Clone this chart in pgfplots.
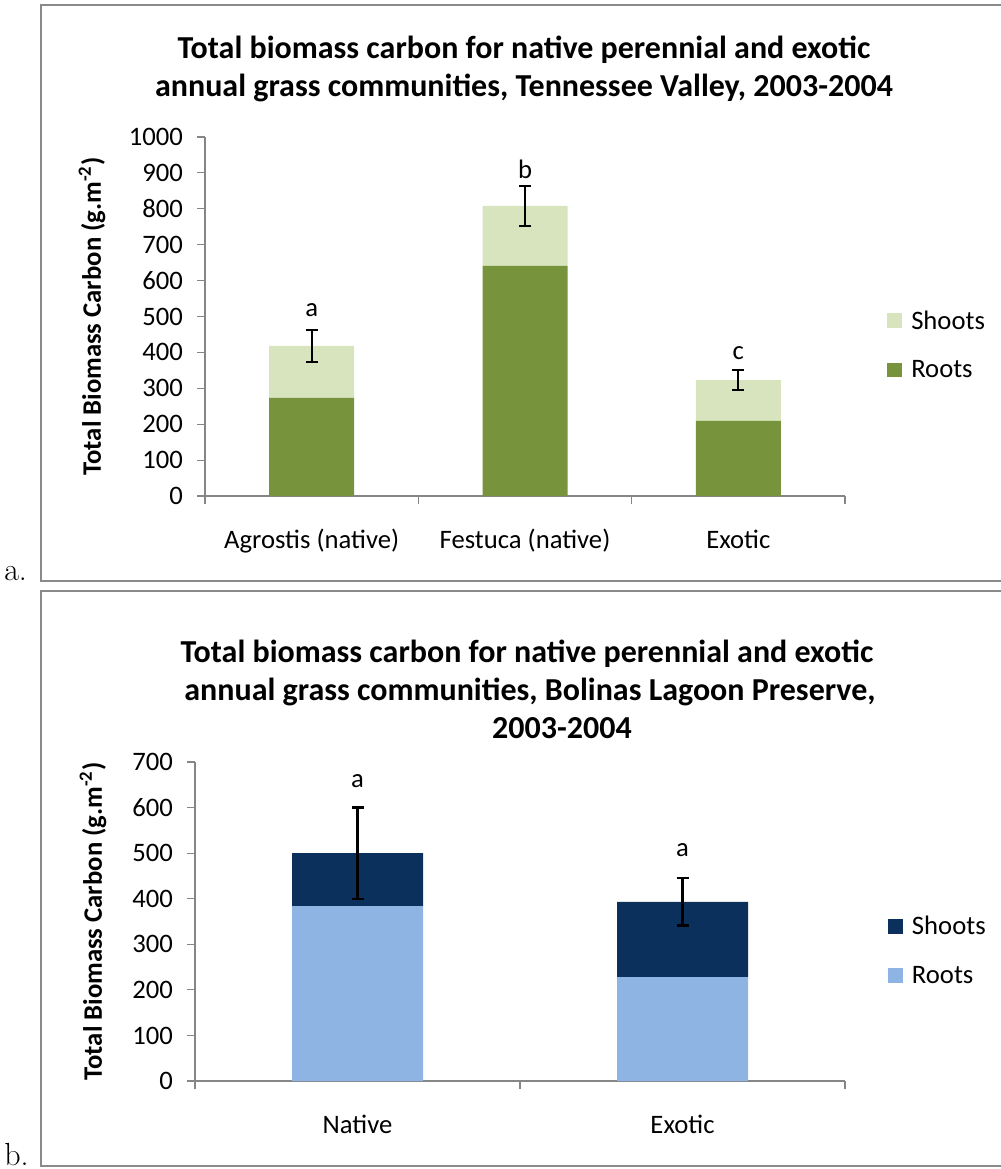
\documentclass[border=0pt]{standalone}
\usepackage{fontspec}
\usepackage{pgfplots}
\pgfplotsset{compat=1.18}
\newfontfamily\carlito{Carlito}

\definecolor{rootgreen}{HTML}{77933C}
\definecolor{shootgreen}{HTML}{D7E4BD}
\definecolor{shootblue}{HTML}{0B305B}
\definecolor{rootblue}{HTML}{8DB4E2}
\definecolor{axisgray}{HTML}{868686}
\definecolor{framegray}{HTML}{8A8A8A}

\newcommand{\bodyfont}{\carlito\fontsize{20}{24}\selectfont}
\newcommand{\titlefont}{\carlito\bfseries\fontsize{24}{29}\selectfont}

\pgfplotsset{
  biomass/.style={
    scale only axis,
    ybar stacked,
    ymin=0,
    axis x line*=bottom,
    axis y line*=left,
    axis line style={axisgray, line width=0.9pt},
    tick align=outside,
    major tick length=6pt,
    minor tick length=6pt,
    tick style={axisgray, line width=0.9pt},
    major x tick style={draw=none},
    ytick distance=100,
    tick label style={font=\bodyfont, text=black},
    xticklabel style={anchor=base, yshift=-33pt},
    yticklabel style={xshift=-7pt},
    /pgf/number format/assume math mode=true,
    /pgf/number format/1000 sep={},
    ylabel={Total Biomass Carbon (g.m\textsuperscript{-2})},
    ylabel style={font=\carlito\bfseries\fontsize{20}{24}\selectfont, anchor=center},
    legend style={draw=none, fill=none, inner sep=0pt, row sep=18pt,
      column sep=5pt, font=\bodyfont, anchor=west},
    legend cell align=left,
    reverse legend,
    legend image code/.code={\fill[#1] (0pt,-5.5pt) rectangle (11pt,5.5pt);},
  },
  ebar/.style={error bars/.cd, y dir=both, y explicit,
    error bar style={black, line width=1.7pt},
    error mark options={black, rotate=90, mark size=4.5pt, line width=1.7pt}},
}

\begin{document}
\begin{tikzpicture}
% page furniture, laid out on a 1000 x 1169 grid measured from the top left
\begin{scope}[x=0.75pt, y=-0.75pt]
\useasboundingbox (0,0) rectangle (1000,1169);
\draw[framegray, line width=1.5pt] (1010,5) -- (41,5) -- (41,581) -- (1010,581);
\draw[framegray, line width=1.5pt] (1010,591) -- (41,591) -- (41,1166) -- (1010,1166);
\node[anchor=base west, font=\fontsize{24}{28}\selectfont, inner sep=0pt] at (4,580) {a.};
\node[anchor=base west, font=\fontsize{24}{28}\selectfont, inner sep=0pt] at (4,1165) {b.};
\node[anchor=base, font=\titlefont, inner sep=0pt] at (524,59) {Total biomass carbon for native perennial and exotic};
\node[anchor=base, font=\titlefont, inner sep=0pt] at (524,97) {annual grass communities, Tennessee Valley, 2003-2004};
\node[anchor=base, font=\titlefont, inner sep=0pt] at (527,662) {Total biomass carbon for native perennial and exotic};
\node[anchor=base, font=\titlefont, inner sep=0pt] at (530,700) {annual grass communities, Bolinas Lagoon Preserve,};
\node[anchor=base, font=\titlefont, inner sep=0pt] at (562,738) {2003-2004};
\end{scope}

% (a) Tennessee Valley
\begin{axis}[biomass,
  at={(153.75pt,-372pt)}, anchor=south west,
  width=480pt, height=269.25pt,
  xmin=-0.5, xmax=2.5, ymax=1000,
  xtick={0,1,2},
  minor xtick={-0.5,0.5,1.5,2.5},
  xticklabels={Agrostis (native), Festuca (native), Exotic},
  bar width=63.75pt,
  ylabel style={at={(axis description cs:-0.1766,0.5)}},
  legend style={at={(axis description cs:1.0656,0.4206)}},
]
\addplot[fill=rootgreen, draw=none] coordinates {(0,273) (1,641) (2,209)};
\addlegendentry{Roots}
\addplot[fill=shootgreen, draw=none, ebar] coordinates {(0,145) +- (0,45) (1,167) +- (0,55) (2,114) +- (0,27)};
\addlegendentry{Shoots}
\node[anchor=base, font=\bodyfont, inner sep=0pt] at (axis cs:0,499) {a};
\node[anchor=base, font=\bodyfont, inner sep=0pt] at (axis cs:1,885) {b};
\node[anchor=base, font=\bodyfont, inner sep=0pt] at (axis cs:2,379) {c};
\end{axis}

% (b) Bolinas Lagoon Preserve
\begin{axis}[biomass,
  at={(146.25pt,-810.75pt)}, anchor=south west,
  width=487.5pt, height=239.25pt,
  xmin=-0.5, xmax=1.5, ymax=700,
  xtick={0,1},
  minor xtick={-0.5,0.5,1.5},
  xticklabels={Native, Exotic},
  bar width=98.25pt,
  ylabel style={at={(axis description cs:-0.1569,0.5)}},
  legend style={at={(axis description cs:1.0657,0.409)}},
]
\addplot[fill=rootblue, draw=none] coordinates {(0,384) (1,228)};
\addlegendentry{Roots}
\addplot[fill=shootblue, draw=none, ebar] coordinates {(0,116) +- (0,100) (1,165) +- (0,52)};
\addlegendentry{Shoots}
\node[anchor=base, font=\bodyfont, inner sep=0pt] at (axis cs:0,644) {a};
\node[anchor=base, font=\bodyfont, inner sep=0pt] at (axis cs:1,492) {a};
\end{axis}
\end{tikzpicture}
\end{document}
